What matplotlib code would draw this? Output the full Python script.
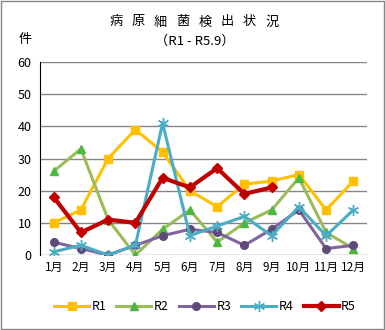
import matplotlib
matplotlib.use('Agg')
import matplotlib.pyplot as plt
from matplotlib.patches import Rectangle

plt.rcParams['font.family'] = ['Noto Sans CJK JP', 'DejaVu Sans']

months = ['1月', '2月', '3月', '4月', '5月', '6月', '7月', '8月', '9月', '10月', '11月', '12月']
r1 = [10, 14, 30, 39, 32, 20, 15, 22, 23, 25, 14, 23]
r2 = [26, 33, 11, 0, 8, 14, 4, 10, 14, 24, 7, 2]
r3 = [4, 2, 0, 3, 6, 8, 7, 3, 8, 14, 2, 3]
r4 = [1, 3, 0, 3, 41, 6, 9, 12, 6, 15, 6, 14]
r5 = [18, 7, 11, 10, 24, 21, 27, 19, 21]
title_chars = list('病原細菌検出状況')

fig = plt.figure(figsize=(3.85, 3.3), dpi=100)
ax = fig.add_axes([40 / 385, 1 - 255 / 330, 327 / 385, 193 / 330])

x = list(range(len(months)))
ax.plot(x, r1, color='#FFC000', lw=2.2, marker='s', ms=5.5, label='R1', zorder=3)
ax.plot(x, r2, color='#9BBB59', lw=2.2, marker='^', ms=6, mfc='#4CB840', mec='#4CB840', label='R2', zorder=3)
ax.plot(x, r3, color='#8064A2', lw=2.2, marker='o', ms=5.5, mfc='#604A7B', mec='#604A7B', label='R3', zorder=3)
ax.plot(x, r4, color='#4BACC6', lw=2.2, marker=(6, 2, 0), ms=8, mew=1, label='R4', zorder=3)
ax.plot(x[:len(r5)], r5, color='#C00000', lw=3, marker='D', ms=5.5, label='R5', zorder=4)

ax.set_xlim(-0.5, 11.5)
ax.set_ylim(0, 60)
ax.set_yticks(range(0, 61, 10))
ax.set_xticks(x)
ax.set_xticklabels(months)
ax.yaxis.grid(True, color='#868686', lw=1)
ax.set_axisbelow(True)
for s in ['top', 'right', 'bottom']:
    ax.spines[s].set_visible(False)
ax.spines['left'].set_color('black')
ax.tick_params(axis='y', length=0, labelsize=9, pad=6)
ax.tick_params(axis='x', length=0, labelsize=8.5, pad=4)

# spaced-out title, one glyph at a time
step = (272 - 116) / (len(title_chars) - 1)
for i, ch in enumerate(title_chars):
    fig.text((116 + i * step) / 385, 1 - 22 / 330, ch, ha='center', va='center', fontsize=9.5)
fig.text(195 / 385, 1 - 41 / 330, '（R1 - R5.9）', ha='center', va='center', fontsize=9.5)
fig.text(25 / 385, 1 - 40 / 330, '件', ha='center', va='center', fontsize=9.5)

fig.legend(loc='center', bbox_to_anchor=(205 / 385, 1 - 307 / 330), ncol=5, frameon=False,
           fontsize=9, handlelength=2.8, columnspacing=0.8, handletextpad=0.2)

fig.patches.append(Rectangle((0.003, 0.003), 0.994, 0.994, transform=fig.transFigure,
                             fill=False, edgecolor='#868686', lw=1))

fig.savefig('out.png', dpi=100)
